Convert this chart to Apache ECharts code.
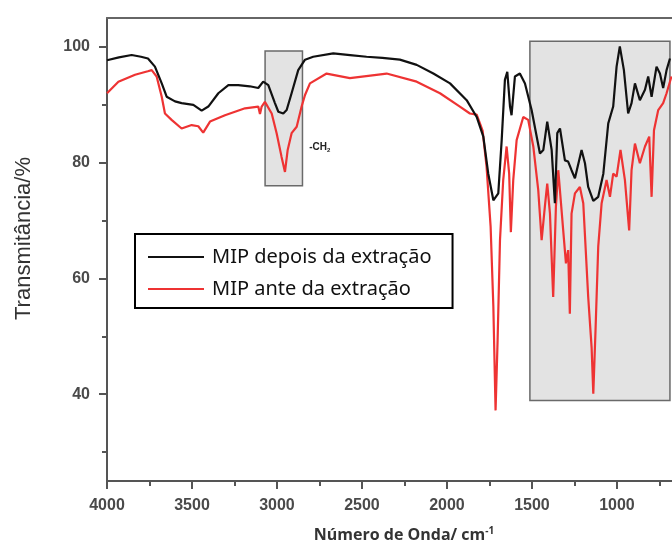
<!DOCTYPE html>
<html>
<head>
    <meta charset="utf-8">
    <title>FTIR MIP</title>
    <script src="https://cdn.jsdelivr.net/npm/echarts@6/dist/echarts.min.js"></script>
    <style>
        html, body { margin: 0; padding: 0; background: #fff; }
        #chart { width: 672px; height: 543px; }
    </style>
</head>
<body>
<div id="chart"></div>
<script>
    // espectro depois da extração (preto)
    var depoisOnda = [4000, 3930, 3855, 3800, 3759, 3718, 3678, 3649, 3600, 3561, 3492, 3443, 3404, 3345, 3286, 3228, 3160, 3110, 3081, 3051,
        3012, 2992, 2963, 2943, 2914, 2875, 2835, 2787, 2669, 2570, 2473, 2380, 2277, 2178, 2080, 1982, 1884, 1825, 1786, 1757,
        1727, 1698, 1678, 1659, 1645, 1629, 1620, 1600, 1571, 1541, 1502, 1453, 1433, 1410, 1384, 1365, 1351, 1335, 1306, 1287,
        1267, 1247, 1208, 1188, 1169, 1139, 1110, 1080, 1051, 1022, 1002, 983, 959, 934, 914, 894, 865, 835, 816, 796,
        767, 747, 728, 708, 688];
    var depoisT = [97.7, 98.2, 98.6, 98.3, 98.0, 96.6, 93.7, 91.4, 90.6, 90.3, 90.0, 89.0, 89.7, 92.0, 93.4, 93.4, 93.2, 92.9, 94.0, 93.4,
        90.3, 88.8, 88.5, 89.1, 92.0, 96.0, 97.8, 98.3, 98.9, 98.6, 98.3, 98.1, 97.8, 96.9, 95.4, 93.7, 90.8, 87.9, 84.5, 78.1,
        73.5, 74.7, 83.9, 94.3, 95.7, 89.7, 88.2, 94.9, 95.4, 93.7, 89.1, 81.6, 82.2, 87.1, 82.2, 73.0, 85.1, 85.9, 80.4, 80.2,
        78.7, 77.3, 82.2, 79.9, 75.8, 73.4, 74.1, 78.1, 86.8, 89.7, 96.6, 100.1, 96.0, 88.5, 90.3, 93.7, 90.8, 92.6, 94.9, 91.4,
        96.6, 95.4, 92.9, 96.0, 98.0];

    // espectro antes da extração (vermelho)
    var anteOnda = [4000, 3933, 3835, 3760, 3737, 3708, 3678, 3659, 3620, 3561, 3502, 3463, 3434, 3394, 3306, 3188, 3110, 3100, 3090, 3071,
        3031, 3002, 2973, 2953, 2937, 2914, 2884, 2855, 2835, 2806, 2708, 2571, 2355, 2178, 2041, 1924, 1865, 1825, 1806, 1790,
        1767, 1743, 1727, 1714, 1702, 1688, 1669, 1649, 1634, 1624, 1610, 1590, 1551, 1522, 1492, 1463, 1443, 1424, 1410, 1394,
        1375, 1359, 1345, 1335, 1316, 1300, 1287, 1277, 1267, 1247, 1218, 1198, 1169, 1149, 1139, 1126, 1110, 1090, 1061, 1041,
        1022, 1002, 979, 953, 928, 914, 894, 865, 835, 810, 796, 782, 757, 728, 708, 679];
    var anteT = [92.0, 94.0, 95.2, 95.8, 96.0, 94.9, 91.4, 88.5, 87.4, 85.9, 86.5, 86.3, 85.2, 87.1, 88.2, 89.4, 89.7, 88.4, 89.7, 90.5,
        88.5, 85.1, 81.0, 78.4, 82.2, 85.1, 86.2, 89.7, 91.7, 93.7, 95.4, 94.6, 95.4, 94.0, 92.0, 89.7, 88.5, 88.3, 86.8, 85.5,
        79.3, 68.9, 55.1, 37.2, 49.3, 66.6, 77.0, 82.8, 78.1, 68.0, 77.0, 83.9, 87.9, 87.4, 82.8, 75.3, 66.6, 72.4, 76.4, 71.2,
        56.8, 72.4, 78.7, 78.7, 68.3, 62.6, 64.9, 53.9, 71.2, 74.7, 75.8, 73.0, 56.8, 48.1, 40.1, 51.0, 65.5, 73.0, 77.0, 74.1,
        78.1, 77.6, 82.2, 77.0, 68.3, 78.7, 83.3, 79.9, 82.8, 84.5, 74.1, 85.6, 89.1, 90.3, 92.0, 94.9];

    var nomes = ['MIP depois da extração', 'MIP ante da extração'];
    var xMajor = [4000, 3500, 3000, 2500, 2000, 1500, 1000];
    var xMinor = [3750, 3250, 2750, 2250, 1750, 1250, 750];
    var yMajor = [40, 60, 80, 100];
    var yMinor = [30, 50, 70, 90];
    // regiões destacadas [onda inicial, T topo, onda final, T base]
    var regiaoCH2 = [3070, 99.3, 2850, 76.0];
    var regiaoDigital = [1512, 101.0, 688, 38.9];

    function pares(xs, ys) {
        var out = [];
        for (var i = 0; i < xs.length; i++) out.push([xs[i], ys[i]]);
        return out;
    }

    var corEixo = '#555';
    var fonteEixo = {color: '#4a4a4a', fontSize: 16, fontWeight: 'bold', fontFamily: 'Liberation Sans, Arial',
        formatter: function (v) { return String(v); }};

    var chart = echarts.init(document.getElementById('chart'));
    var option = {
        animation: false,
        grid: {left: 107, right: 0, top: 18, bottom: 62, outerBoundsMode: 'none'},
        legend: {
            data: nomes,
            orient: 'vertical',
            left: 135,
            top: 234,
            padding: [13, 21, 9, 13],
            itemGap: 12,
            itemWidth: 56,
            itemHeight: 2,
            icon: 'rect',
            borderColor: '#000',
            borderWidth: 2,
            textStyle: {fontSize: 20, color: '#111', fontFamily: 'Noto Sans', padding: [0, 0, 0, 3]}
        },
        xAxis: [{
            type: 'value', inverse: true, min: 676, max: 4000, position: 'bottom',
            name: 'Número de Onda/ cm{sup|-1}',
            nameLocation: 'middle',
            nameGap: 45,
            nameTextStyle: {
                fontSize: 16, fontWeight: 'bold', color: '#333', fontFamily: 'Open Sans',
                padding: [0, 0, 0, 29],
                rich: {sup: {fontSize: 10, fontWeight: 'bold', color: '#333', fontFamily: 'Open Sans', padding: [0, 0, 8, 0]}}
            },
            axisLine: {show: true, lineStyle: {color: corEixo, width: 2}},
            axisTick: {show: true, length: 8, customValues: xMajor, lineStyle: {color: corEixo, width: 2}},
            axisLabel: Object.assign({customValues: xMajor, margin: 17}, fonteEixo),
            splitLine: {show: false}
        }, {
            type: 'value', inverse: true, min: 676, max: 4000, position: 'bottom',
            axisLine: {show: false},
            axisTick: {show: true, length: 5, customValues: xMinor, lineStyle: {color: corEixo, width: 2}},
            axisLabel: {show: false},
            splitLine: {show: false}
        }, {
            type: 'value', inverse: true, min: 676, max: 4000, position: 'top',
            axisLine: {show: true, lineStyle: {color: '#666', width: 2}},
            axisTick: {show: false},
            axisLabel: {show: false},
            splitLine: {show: false}
        }],
        yAxis: [{
            type: 'value', min: 25, max: 105, position: 'left',
            name: 'Transmitância/%',
            nameLocation: 'middle',
            nameGap: 72,
            nameTextStyle: {fontSize: 22, color: '#333', fontFamily: 'Liberation Sans, Arial', padding: [0, 0, 0, 22]},
            axisLine: {show: true, lineStyle: {color: corEixo, width: 2}},
            axisTick: {show: true, length: 8, customValues: yMajor, lineStyle: {color: corEixo, width: 2}},
            axisLabel: Object.assign({customValues: yMajor, margin: 17}, fonteEixo),
            splitLine: {show: false}
        }, {
            type: 'value', min: 25, max: 105, position: 'left',
            axisLine: {show: false},
            axisTick: {show: true, length: 5, customValues: yMinor, lineStyle: {color: corEixo, width: 2}},
            axisLabel: {show: false},
            splitLine: {show: false}
        }],
        series: [{
            name: 'regioes',
            type: 'line',
            data: [],
            z: 1,
            markArea: {
                silent: true,
                itemStyle: {color: '#e3e3e3', borderColor: '#6a6a6a', borderWidth: 1.5},
                data: [
                    [{
                        coord: [regiaoCH2[0], regiaoCH2[1]],
                        label: {
                            show: true, position: 'right', offset: [1, 29],
                            formatter: '{a|-CH}{b|2}',
                            rich: {
                                a: {fontSize: 10, fontWeight: 'bold', color: '#222', fontFamily: 'Liberation Sans'},
                                b: {fontSize: 6, fontWeight: 'bold', color: '#222', fontFamily: 'Liberation Sans', padding: [5, 0, 0, 0]}
                            }
                        }
                    }, {coord: [regiaoCH2[2], regiaoCH2[3]]}],
                    [{coord: [regiaoDigital[0], regiaoDigital[1]], label: {show: false}},
                        {coord: [regiaoDigital[2], regiaoDigital[3]]}]
                ]
            }
        }, {
            name: nomes[0],
            type: 'line',
            z: 4,
            showSymbol: false,
            symbol: 'none',
            data: pares(depoisOnda, depoisT),
            itemStyle: {color: '#111'},
            lineStyle: {color: '#111', width: 2.2}
        }, {
            name: nomes[1],
            type: 'line',
            z: 3,
            showSymbol: false,
            symbol: 'none',
            data: pares(anteOnda, anteT),
            itemStyle: {color: '#ee3333'},
            lineStyle: {color: '#ee3333', width: 2.2}
        }]
    };
    chart.setOption(option);
</script>
</body>
</html>
